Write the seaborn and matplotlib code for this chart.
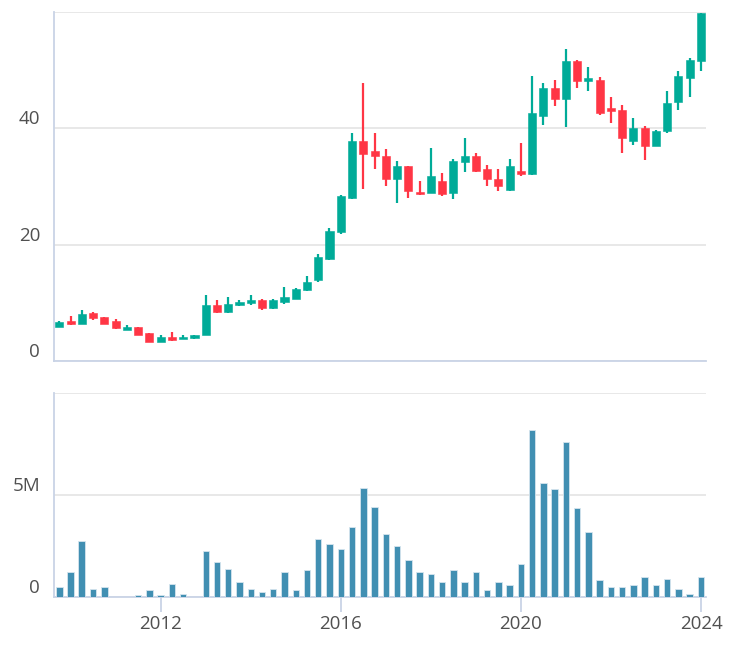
import numpy as np
import pandas as pd
import matplotlib
matplotlib.use("Agg")
import matplotlib.pyplot as plt
import matplotlib.dates as mdates
import seaborn as sns

# ---- data (quarterly candles, 2009 Q4 .. 2024 Q1) ----
quarters = pd.date_range("2009-10-01", periods=58, freq="QS")

open_ = [5.92, 6.96, 6.44, 8.17, 7.55, 6.96, 5.30, 5.82, 4.78, 3.33,
         4.09, 3.85, 3.90, 4.44, 9.55, 8.41, 9.60, 9.90, 10.41, 9.03,
         10.14, 10.70, 12.14, 13.87, 17.60, 22.20, 28.10, 37.88, 36.15, 35.18,
         31.26, 33.45, 29.14, 28.96, 30.86, 28.96, 34.15, 35.18, 32.99, 31.26,
         29.41, 32.60, 32.10, 42.09, 46.93, 44.96, 51.52, 48.07, 48.36, 43.52,
         43.18, 37.77, 40.07, 37.01, 39.50, 44.61, 48.65, 51.52]
high = [6.80, 7.77, 8.69, 8.41, 7.65, 7.25, 6.17, 5.90, 4.85, 4.49,
        4.96, 4.49, 4.50, 11.28, 10.41, 11.00, 10.41, 11.28, 10.70, 10.70,
        12.73, 12.60, 14.68, 18.40, 22.90, 28.50, 39.20, 47.79, 39.20, 36.44,
        34.32, 33.60, 30.86, 36.61, 32.30, 34.72, 38.34, 35.75, 33.73, 32.99,
        34.72, 37.50, 49.00, 47.84, 48.36, 53.71, 51.81, 50.55, 48.83, 45.47,
        44.04, 41.80, 40.47, 39.78, 46.34, 49.79, 52.11, 59.76]
low = [5.85, 6.22, 6.35, 7.08, 6.35, 5.55, 5.25, 4.40, 3.25, 3.25,
       3.45, 3.80, 3.85, 4.40, 8.30, 8.30, 9.50, 9.55, 8.69, 8.95,
       9.84, 10.60, 12.00, 13.52, 17.40, 21.90, 27.80, 29.53, 32.99, 30.10,
       27.24, 28.10, 28.50, 28.80, 28.38, 27.80, 32.42, 32.50, 30.10, 29.24,
       29.20, 31.80, 31.95, 40.59, 43.82, 40.19, 46.93, 46.34, 42.31, 40.93,
       35.75, 37.18, 34.59, 36.90, 39.21, 43.23, 45.47, 49.79]
close = [6.68, 6.44, 8.12, 7.37, 6.44, 5.65, 5.82, 4.49, 3.33, 4.09,
         3.63, 4.20, 4.44, 9.55, 8.41, 9.84, 10.14, 10.41, 9.03, 10.41,
         11.00, 12.44, 13.52, 17.84, 22.30, 28.40, 37.88, 35.58, 35.28, 31.26,
         33.45, 29.24, 28.67, 31.73, 28.67, 34.32, 35.18, 32.69, 31.26, 30.10,
         33.45, 32.10, 42.70, 46.93, 44.96, 51.52, 48.13, 48.65, 42.61, 43.00,
         38.34, 40.07, 37.01, 39.50, 44.34, 48.93, 51.81, 59.76]
volume_m = [0.49, 1.22, 2.76, 0.41, 0.49, 0.0, 0.0, 0.08, 0.33, 0.08,
            0.65, 0.16, 0.0, 2.27, 1.70, 1.37, 0.74, 0.41, 0.25, 0.41,
            1.22, 0.33, 1.31, 2.84, 2.60, 2.35, 3.42, 5.34, 4.40, 3.09,
            2.52, 1.80, 1.22, 1.14, 0.74, 1.31, 0.74, 1.22, 0.33, 0.74,
            0.57, 1.63, 8.19, 5.59, 5.28, 7.61, 4.38, 3.17, 0.82, 0.49,
            0.49, 0.57, 0.98, 0.57, 0.90, 0.41, 0.16, 0.98]

price_ticks = [0, 20, 40, 60]
price_labels = ["0", "20", "40", ""]
vol_ticks = [0, 5, 10]
vol_labels = ["0", "5M", ""]
year_ticks = ["2012-01-01", "2016-01-01", "2020-01-01", "2024-01-01"]
year_labels = ["2012", "2016", "2020", "2024"]

UP = "#00AB98"
DOWN = "#FF3645"
VOL = "#418FB2"
GRID = "#e6e6e6"
AXIS = "#c9d3e6"
TXT = "#505050"

sns.set_theme(style="white")
plt.rcParams["font.family"] = ["Open Sans", "DejaVu Sans"]

W, H = 734, 646
fig = plt.figure(figsize=(W / 100, H / 100), dpi=100)
ax1 = fig.add_axes([54 / W, 1 - 361 / H, (706 - 54) / W, (361 - 12) / H])
ax2 = fig.add_axes([54 / W, 1 - 597 / H, (706 - 54) / W, (597 - 393) / H])

x = mdates.date2num(quarters.to_pydatetime())
o = np.array(open_)
c = np.array(close)
colors = [UP if cc >= oo else DOWN for oo, cc in zip(o, c)]

# candles
ax1.vlines(x, low, high, colors=colors, lw=1.6, zorder=3)
body_h = np.maximum(np.abs(c - o), 0.12)
ax1.bar(x, body_h, bottom=np.minimum(o, c), width=66, color=colors,
        edgecolor=colors, linewidth=0.4, zorder=4)

# volume
df = pd.DataFrame({"x": x, "vol": volume_m})
sns.barplot(data=df, x="x", y="vol", native_scale=True, width=0.59,
            color=VOL, saturation=1, edgecolor="#d5e5ee", linewidth=0.6,
            ax=ax2, zorder=3)

xmin, xmax = x[0] - 43, x[-1] + 40
for ax in (ax1, ax2):
    ax.set_xlim(xmin, xmax)
    ax.set_xlabel("")
    ax.set_ylabel("")
    ax.set_axisbelow(True)
    ax.yaxis.grid(True, color=GRID, lw=1.3)
    ax.xaxis.grid(False)
    for s in ("top", "right"):
        ax.spines[s].set_visible(False)
    for s in ("left", "bottom"):
        ax.spines[s].set_color(AXIS)
        ax.spines[s].set_linewidth(1.3)

ax1.set_ylim(0, 60)
ax1.set_yticks(price_ticks, price_labels)
ax1.set_xticks([])
ax2.set_ylim(0, 10)
ax2.set_yticks(vol_ticks, vol_labels)

yt = mdates.date2num(pd.to_datetime(year_ticks).to_pydatetime())
ax2.set_xticks(yt, year_labels)

for ax in (ax1, ax2):
    ax.tick_params(axis="y", length=0, pad=10, labelsize=13.5, labelcolor=TXT)
    for t in ax.yaxis.get_major_ticks():
        t.label1.set_va("bottom")
ax2.tick_params(axis="x", direction="out", length=11, width=1.3, color=AXIS,
                pad=2, labelsize=13.5, labelcolor=TXT, bottom=True)

fig.savefig("out.png", dpi=100, facecolor="white")
